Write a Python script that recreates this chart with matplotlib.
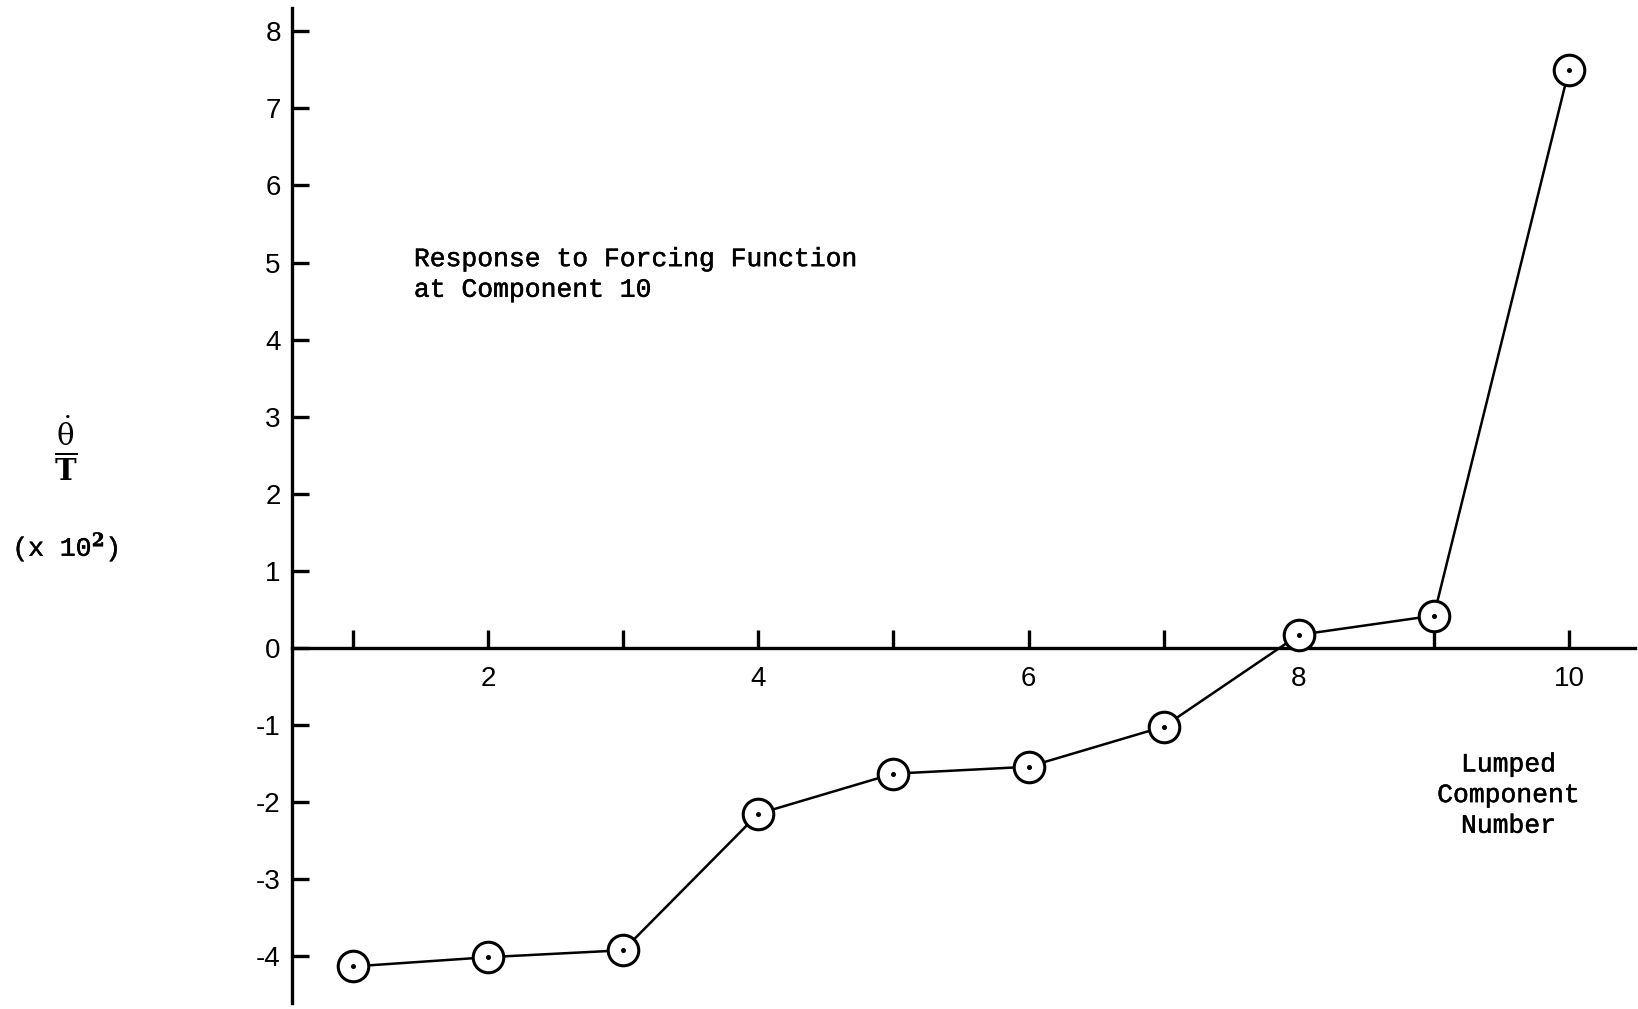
import matplotlib
matplotlib.use("Agg")
from matplotlib import pyplot as plt
from matplotlib import patheffects

# data
components = [1, 2, 3, 4, 5, 6, 7, 8, 9, 10]
response = [-4.13, -4.01, -3.92, -2.15, -1.63, -1.54, -1.02, 0.17, 0.42, 7.50]
x_tick_labels = ["", "2", "", "4", "", "6", "", "8", "", "10"]
y_ticks = [-4, -3, -2, -1, 0, 1, 2, 3, 4, 5, 6, 7, 8]
y_tick_labels = ["-4", "-3", "-2", "-1", "0", "1", "2", "3", "4", "5", "6", "7", "8"]

mono = "Liberation Mono"
sans = "Liberation Sans"
plt.rcParams["mathtext.fontset"] = "dejavuserif"

# typewriter text looks a bit heavier than the plain font
heavy = [patheffects.withStroke(linewidth=0.35, foreground="black")]

fig = plt.figure(figsize=(16.38, 10.09), dpi=100)
ax = fig.add_axes([0, 0, 1, 1])
ax.set_xlim(-1.613, 10.511)
ax.set_ylim(-4.682, 8.405)

# axes drawn through the origin like the hand plot
for side in ["top", "right"]:
    ax.spines[side].set_visible(False)
ax.spines["left"].set_position(("data", 0.548))
ax.spines["bottom"].set_position(("data", 0))
ax.spines["left"].set_bounds(-4.6, 8.3)
ax.spines["bottom"].set_bounds(0.548, 10.49)
for side in ["left", "bottom"]:
    ax.spines[side].set_linewidth(2.4)
ax.patch.set_visible(False)

ax.set_xticks(components)
ax.set_xticklabels(x_tick_labels)
ax.set_yticks(y_ticks)
ax.set_yticklabels(y_tick_labels)
ax.tick_params(axis="x", direction="in", length=13, width=2.4, pad=13)
ax.tick_params(axis="y", direction="in", length=12, width=2.4, pad=8)
for lab in ax.get_xticklabels() + ax.get_yticklabels():
    lab.set_fontfamily(sans)
    lab.set_fontsize(20)

ax.plot(components, response, color="black", linewidth=1.8,
        marker="o", markersize=22, markerfacecolor="white",
        markeredgecolor="black", markeredgewidth=2.2, zorder=3)
ax.plot(components, response, linestyle="none", marker="o", markersize=2.6,
        color="black", zorder=4)

ax.text(0.2527, 0.728, "Response to Forcing Function\nat Component 10",
        transform=ax.transAxes, fontfamily=mono, fontsize=19,
        ha="left", va="center", linespacing=1.35, path_effects=heavy)
ax.text(0.921, 0.212, "Lumped\nComponent\nNumber",
        transform=ax.transAxes, fontfamily=mono, fontsize=19,
        ha="center", va="center", linespacing=1.35, path_effects=heavy)

ax.text(0.040, 0.556, r"$\frac{\mathrm{\dot{\theta}}}{\mathbf{T}}$",
        transform=ax.transAxes, fontsize=30, ha="center", va="center")
ax.text(0.040, 0.458, "(x 10$^{\\mathbf{2}}$)",
        transform=ax.transAxes, fontfamily=mono, fontsize=19,
        ha="center", va="center", path_effects=heavy)

fig.savefig("out.png", dpi=100)
